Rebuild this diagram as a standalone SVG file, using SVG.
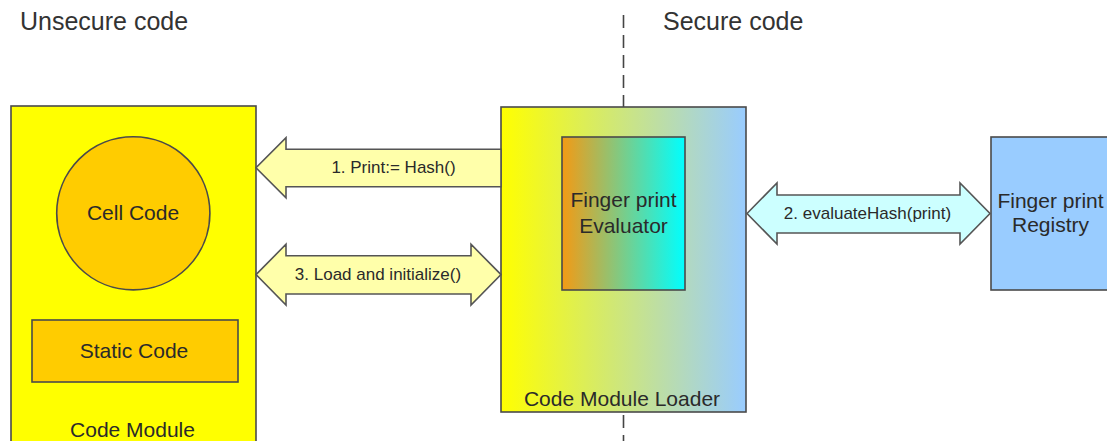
<svg xmlns="http://www.w3.org/2000/svg" width="1107" height="441" viewBox="0 0 1107 441">
  <defs>
    <linearGradient id="loaderFill" x1="0" y1="0" x2="1" y2="0">
      <stop offset="0" stop-color="#FFFF00"/>
      <stop offset="1" stop-color="#99CCFF"/>
    </linearGradient>
    <linearGradient id="evaluatorFill" x1="0" y1="0" x2="1" y2="0">
      <stop offset="0" stop-color="#F39A14"/>
      <stop offset="1" stop-color="#00FFFF"/>
    </linearGradient>
  </defs>
  <style>
    text { font-family: "Liberation Sans", Arial, sans-serif; fill: #2a2a2a; }
    .zone { font-size: 25px; fill: #333; }
    .lbl { font-size: 21px; text-anchor: middle; }
    .alb { font-size: 17px; text-anchor: middle; }
    .box { stroke: #4a4a4a; stroke-width: 1.6; }
    .arrow { stroke: #555; stroke-width: 1.6; stroke-linejoin: miter; }
    .divider { stroke: #444; stroke-width: 1.6; stroke-dasharray: 13 7; fill: none; }
  </style>

  <rect width="1107" height="441" fill="#FFFFFF"/>

  <!-- zone titles and trust boundary -->
  <g id="zones">
    <text class="zone" x="20" y="30">Unsecure code</text>
    <text class="zone" x="663" y="30">Secure code</text>
    <line class="divider" x1="623.5" y1="15" x2="623.5" y2="441"/>
  </g>

  <!-- unsecure side: the module being loaded -->
  <g id="code-module">
    <rect class="box" x="11" y="106" width="245" height="345" fill="#FFFF00"/>
    <text class="lbl" x="132.5" y="437">Code Module</text>
  </g>
  <g id="cell-code">
    <circle class="box" cx="133.3" cy="213.3" r="76.6" fill="#FFCC00"/>
    <text class="lbl" x="133" y="220">Cell Code</text>
  </g>
  <g id="static-code">
    <rect class="box" x="32" y="320" width="206" height="62" fill="#FFCC00"/>
    <text class="lbl" x="134" y="358">Static Code</text>
  </g>

  <!-- secure side -->
  <g id="code-module-loader">
    <rect class="box" x="501" y="107" width="245" height="305" fill="url(#loaderFill)"/>
    <text class="lbl" x="622" y="406">Code Module Loader</text>
  </g>
  <g id="fingerprint-evaluator">
    <rect class="box" x="562" y="137" width="123" height="153" fill="url(#evaluatorFill)"/>
    <text class="lbl" x="623.5" y="207">Finger print</text>
    <text class="lbl" x="623.5" y="233">Evaluator</text>
  </g>
  <g id="fingerprint-registry">
    <rect class="box" x="991" y="137" width="125" height="153" fill="#99CCFF"/>
    <text class="lbl" x="1050.5" y="208">Finger print</text>
    <text class="lbl" x="1050.5" y="232">Registry</text>
  </g>

  <!-- block arrows between components -->
  <g id="connectors">
    <g id="hash-arrow">
      <polygon class="arrow" fill="#FFFFAA" points="501,149.3 286,149.3 286,137.7 256,167.7 286,197.7 286,186.7 501,186.7"/>
      <text class="alb" x="393.5" y="173">1. Print:= Hash()</text>
    </g>
    <g id="evaluate-arrow">
      <polygon class="arrow" fill="#CCFFFF" points="747,213.5 777,183 777,195 960,195 960,183 990,213.5 960,244 960,233 777,233 777,244"/>
      <text class="alb" x="867.5" y="219">2. evaluateHash(print)</text>
    </g>
    <g id="load-arrow">
      <polygon class="arrow" fill="#FFFFAA" points="256,274.6 286,244.3 286,255.7 471,255.7 471,244.3 501,274.6 471,305 471,294 286,294 286,305"/>
      <text class="alb" x="378" y="280">3. Load and initialize()</text>
    </g>
  </g>
</svg>
